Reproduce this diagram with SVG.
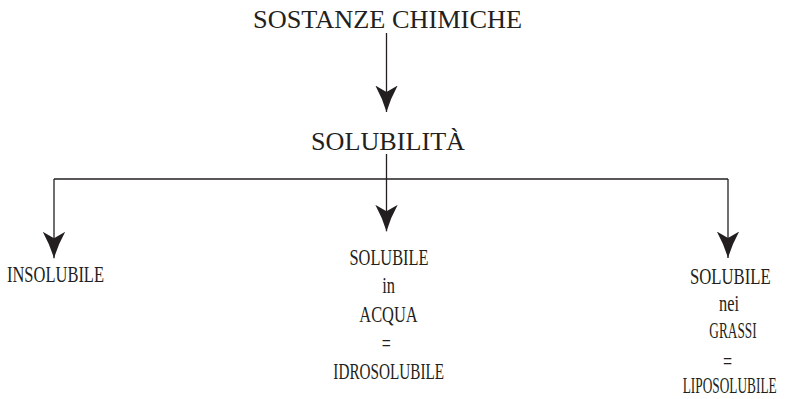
<svg xmlns="http://www.w3.org/2000/svg" width="786" height="399" viewBox="0 0 786 399">
<style>
text{font-family:"Liberation Serif","Times New Roman",serif;fill:#231f20;text-anchor:middle}
.big{font-size:26px}
.sm{font-size:23px}
.ln{fill:none;stroke:#231f20;stroke-width:1.3}
</style>
<defs>
<marker id="ah" viewBox="0 0 27 23" markerWidth="27" markerHeight="23" refX="26.5" refY="11.5" orient="auto" markerUnits="userSpaceOnUse">
<path d="M0,0.3 Q13,7.5 26.5,11.5 Q13,15.5 0,22.7 L6.5,11.5 Z" fill="#231f20"/>
</marker>
</defs>
<rect width="786" height="399" fill="#fff"/>
<g id="connectors">
<path class="ln" d="M386.5,33 V112" marker-end="url(#ah)"/>
<path class="ln" d="M386.5,154 V179"/>
<path class="ln" d="M54,179 H728"/>
<path class="ln" d="M54,179 V258.3" marker-end="url(#ah)"/>
<path class="ln" d="M386.5,179 V231.3" marker-end="url(#ah)"/>
<path class="ln" d="M728,179 V258" marker-end="url(#ah)"/>
</g>
<g id="n-sostanze"><text class="big" x="387.5" y="27.5" textLength="269" lengthAdjust="spacingAndGlyphs">SOSTANZE CHIMICHE</text></g>
<g id="n-solubilita"><text class="big" x="388" y="149.5" textLength="154" lengthAdjust="spacingAndGlyphs">SOLUBILITÀ</text></g>
<g id="n-insolubile" transform="scale(0.7,1)"><text class="sm" x="79.29" y="282.5" textLength="138.6" lengthAdjust="spacingAndGlyphs">INSOLUBILE</text></g>
<g id="n-idrosolubile" transform="scale(0.7,1)">
<text class="sm" x="555.71" y="265" textLength="112.86" lengthAdjust="spacingAndGlyphs">SOLUBILE</text>
<text class="sm" x="555.29" y="293.3" textLength="18.29" lengthAdjust="spacingAndGlyphs">in</text>
<text class="sm" x="555" y="321.7" textLength="83.43" lengthAdjust="spacingAndGlyphs">ACQUA</text>
<text class="sm" x="551.7" y="351">=</text>
<text class="sm" x="555.29" y="379.3" textLength="158.14" lengthAdjust="spacingAndGlyphs">IDROSOLUBILE</text>
</g>
<g id="n-liposolubile" transform="scale(0.7,1)">
<text class="sm" x="1043.29" y="284" textLength="115.29" lengthAdjust="spacingAndGlyphs">SOLUBILE</text>
<text class="sm" x="1041.43" y="310.7" textLength="28.57" lengthAdjust="spacingAndGlyphs">nei</text>
<text class="sm" x="1047.14" y="338.3" textLength="67.57" lengthAdjust="spacingAndGlyphs">GRASSI</text>
<text class="sm" x="1039.29" y="369">=</text>
<text class="sm" x="1042.43" y="393.5" textLength="134.29" lengthAdjust="spacingAndGlyphs">LIPOSOLUBILE</text>
</g>
</svg>
